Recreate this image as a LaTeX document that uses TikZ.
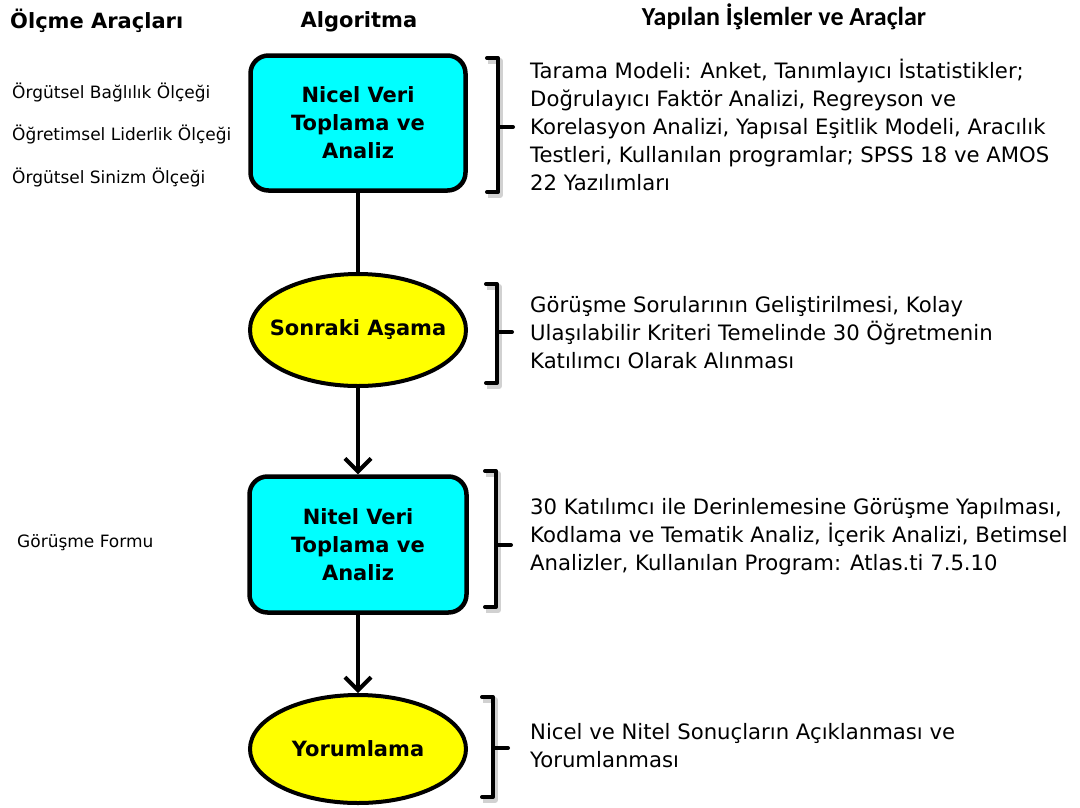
\documentclass[tikz,border=0pt]{standalone}
\usepackage{fontspec}
\setmainfont{DejaVu Sans}
\newfontfamily\headfont{Carlito}
\usetikzlibrary{arrows.meta,shapes.geometric}

\definecolor{stagefill}{RGB}{0,255,255}
\definecolor{phasefill}{RGB}{255,255,0}

\tikzset{
  stage/.style={draw=black, line width=4.5pt, fill=stagefill, rounded corners=18pt,
    inner sep=0pt, align=center, font=\bfseries\fontsize{21}{28}\selectfont},
  phase/.style={ellipse, draw=black, line width=4pt, fill=phasefill, inner sep=0pt},
  phasetext/.style={font=\bfseries\fontsize{21}{28}\selectfont},
  colhead/.style={font=\bfseries\fontsize{21}{26}\selectfont, inner sep=0pt},
  tool/.style={anchor=west, inner sep=0pt, font=\fontsize{17}{22}\selectfont},
  info/.style={anchor=west, inner sep=0pt, align=left, font=\fontsize{21.2}{28}\selectfont},
  flow/.style={line width=4pt},
  flowarrow/.style={line width=4pt, -{Straight Barb[length=13pt,width=26pt,line width=4pt]}},
  bracket/.style={line width=4pt, line join=round, line cap=round},
  bracketshadow/.style={line width=6pt, draw=black!40, opacity=0.45, line join=round}
}

% right square bracket with a tick pointing at the text
\newcommand{\sidebracket}[4]{% x, top, bottom, tick
  \draw[bracketshadow] (#1-10,#2+3) -- (#1+2,#2+3) -- (#1+2,#3+3) -- (#1-10,#3+3);
  \draw[bracket] (#1-11,#2) -- (#1,#2) -- (#1,#3) -- (#1-11,#3);
  \draw[bracket] (#1,#4) -- (#1+15,#4);
}

\begin{document}
\begin{tikzpicture}[x=1pt, y=-1pt]
  \useasboundingbox[fill=white] (0,0) rectangle (1080,807);

  % column headings
  \node[colhead, anchor=west] (h1) at (10,21) {Ölçme Araçları};
  \node[colhead] (h2) at (359,22) {Algoritma};
  \node[font=\headfont\bfseries\fontsize{26}{30}\selectfont, inner sep=0pt] (h3) at (784,17) {Yapılan İşlemler ve Araçlar};

  % measurement tools
  \node[tool, anchor=west] (t1) at (12,93) {Örgütsel Bağlılık Ölçeği};
  \node[tool, anchor=west] (t2) at (12,135) {Öğretimsel Liderlik Ölçeği};
  \node[tool, anchor=west] (t3) at (12,178) {Örgütsel Sinizm Ölçeği};
  \node[tool, anchor=west] (t4) at (17,543) {Görüşme Formu};

  % algorithm
  \node[stage, minimum width=215pt, minimum height=135pt] (s1) at (358,123) {Nicel Veri\\Toplama ve\\Analiz};
  \node[phase, minimum width=216pt, minimum height=112pt,
        label={[phasetext]center:Sonraki Aşama}] (s2) at (358,330) {};
  \node[stage, minimum width=217pt, minimum height=136pt] (s3) at (358,544.5) {Nitel Veri\\Toplama ve\\Analiz};
  \node[phase, minimum width=216pt, minimum height=108pt,
        label={[phasetext]center:Yorumlama}] (s4) at (358,749) {};

  \draw[flow] (s1.south) -- (s2.north);
  \draw[flowarrow] (s2.south) -- (s3.north);
  \draw[flowarrow] (s3.south) -- (s4.north);

  % brackets
  \sidebracket{498}{58}{192}{127}
  \sidebracket{497}{284}{383}{332}
  \sidebracket{496}{471}{607}{545}
  \sidebracket{493}{697}{797}{748}

  % procedures and tools
  \node[info] (p1) at (530,124.5) {Tarama Modeli: Anket, Tanımlayıcı İstatistikler;\\Doğrulayıcı Faktör Analizi, Regreyson ve\\Korelasyon Analizi, Yapısal Eşitlik Modeli, Aracılık\\Testleri, Kullanılan programlar; SPSS 18 ve AMOS\\22 Yazılımları};
  \node[info] (p2) at (530,333) {Görüşme Sorularının Geliştirilmesi, Kolay\\Ulaşılabilir Kriteri Temelinde 30 Öğretmenin\\Katılımcı Olarak Alınması};
  \node[info] (p3) at (530,536.5) {30 Katılımcı ile Derinlemesine Görüşme Yapılması,\\Kodlama ve Tematik Analiz, İçerik Analizi, Betimsel\\Analizler, Kullanılan Program: Atlas.ti 7.5.10};
  \node[info] (p4) at (530,746) {Nicel ve Nitel Sonuçların Açıklanması ve\\Yorumlanması};
\end{tikzpicture}
\end{document}
